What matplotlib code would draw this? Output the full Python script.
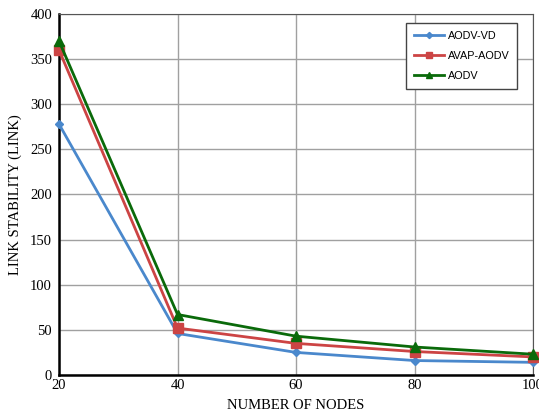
import numpy as np
import matplotlib.pyplot as plt

nodes = [20, 40, 60, 80, 100]
aodv_vd = [278, 46, 25, 16, 14]
avap_aodv = [360, 52, 35, 26, 20]
aodv = [370, 67, 43, 31, 23]

fig = plt.figure(figsize=(5.39, 4.16), dpi=100)
ax = fig.add_axes([0.1095, 0.0986, 0.8795, 0.8678])

ax.plot(nodes, aodv_vd, color='#4a88cc', lw=2, marker='D', ms=4.5, label='AODV-VD', clip_on=False, zorder=3)
ax.plot(nodes, avap_aodv, color='#cc4444', lw=2, marker='s', ms=7, label='AVAP-AODV', clip_on=False, zorder=3)
ax.plot(nodes, aodv, color='#0a6a0a', lw=2, marker='^', ms=7, label='AODV', clip_on=False, zorder=4)

ax.set_xlim(20, 100)
ax.set_ylim(0, 400)
ax.set_xticks(nodes)
ax.set_yticks(np.arange(0, 401, 50))
ax.grid(True, color='#a0a0a0', lw=1)
ax.set_axisbelow(True)
ax.tick_params(length=0, labelsize=10.5, pad=5)
ax.tick_params(axis='x', pad=3)
for lab in ax.get_xticklabels() + ax.get_yticklabels():
    lab.set_family('Liberation Serif')

ax.spines['left'].set_linewidth(1.8)
ax.spines['bottom'].set_linewidth(1.8)
ax.spines['top'].set_color('#555555')
ax.spines['right'].set_color('#555555')

ax.set_xlabel('NUMBER OF NODES', family='Liberation Serif', fontsize=10.5, labelpad=5)
ax.set_ylabel('LINK STABILITY (LINK)', family='Liberation Serif', fontsize=10.5, labelpad=6)

leg = ax.legend(loc='upper right', bbox_to_anchor=(0.966, 0.975), borderaxespad=0,
                prop={'family': 'Liberation Sans', 'size': 7.8},
                fancybox=False, edgecolor='#444444', framealpha=1, borderpad=0.7,
                labelspacing=0.95, handlelength=2.8, handletextpad=0.3, markerscale=0.7)
leg.get_frame().set_linewidth(1.0)

fig.savefig('out.png', dpi=100)
